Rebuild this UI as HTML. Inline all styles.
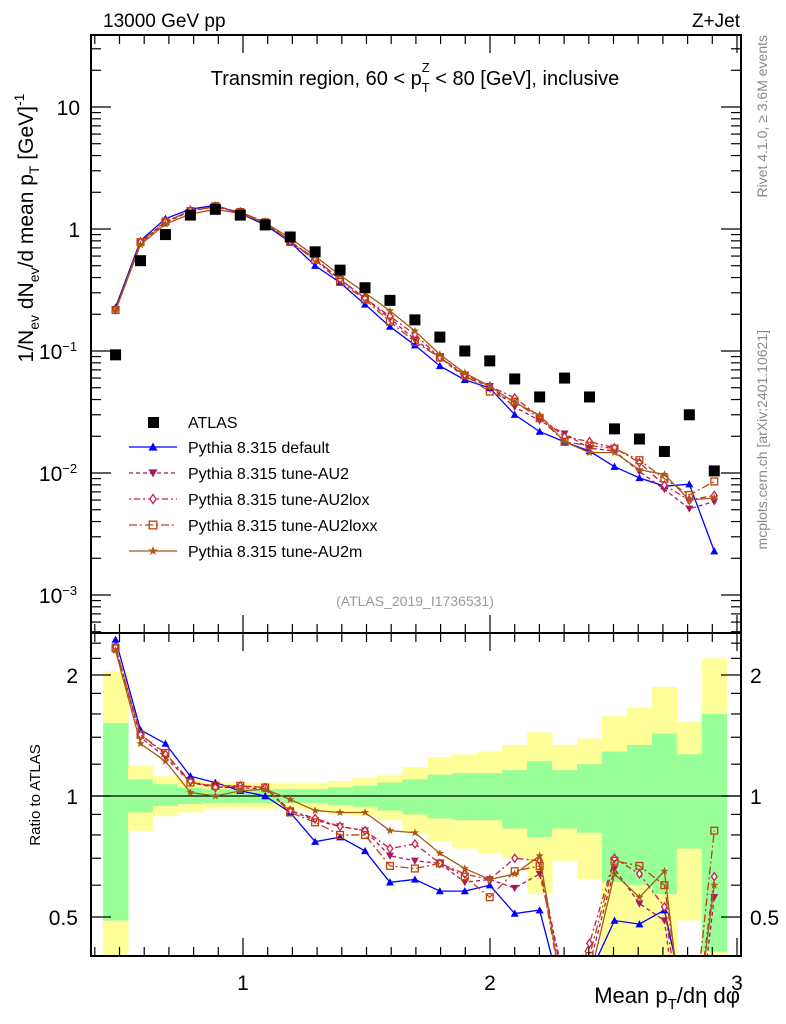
<!DOCTYPE html>
<html><head><meta charset="utf-8"><style>
body{margin:0;background:#fff;width:786px;height:1024px;overflow:hidden}
svg{font-family:"Liberation Sans",sans-serif;display:block}
</style></head><body>
<svg id="c" width="786" height="1024" viewBox="0 0 786 1024"></svg>
<script>
const xCenters=[0.484,0.585,0.686,0.787,0.888,0.989,1.09,1.191,1.292,1.393,1.494,1.595,1.696,1.797,1.898,1.999,2.1,2.201,2.302,2.403,2.504,2.605,2.706,2.807,2.908];
const atlas=[0.093,0.55,0.9,1.3,1.45,1.3,1.08,0.86,0.65,0.46,0.33,0.26,0.18,0.13,0.1,0.083,0.059,0.042,0.06,0.042,0.023,0.019,0.015,0.03,0.0104];
const rDefault=[2.45,1.46,1.35,1.12,1.08,1.03,1.0,0.91,0.77,0.79,0.73,0.61,0.62,0.58,0.58,0.6,0.51,0.52,0.3,0.36,0.49,0.48,0.52,0.27,0.22];
const rAU2=[2.35,1.4,1.25,1.08,1.05,1.05,1.04,0.92,0.87,0.84,0.82,0.71,0.69,0.68,0.61,0.62,0.59,0.64,0.35,0.38,0.66,0.54,0.49,0.17,0.56];
const rAU2lox=[2.35,1.42,1.27,1.09,1.05,1.06,1.05,0.92,0.88,0.84,0.82,0.74,0.76,0.68,0.64,0.62,0.7,0.69,0.33,0.43,0.7,0.64,0.53,0.2,0.63];
const rAU2loxx=[2.33,1.42,1.28,1.08,1.06,1.06,1.05,0.91,0.86,0.8,0.8,0.67,0.66,0.68,0.63,0.56,0.65,0.67,0.3,0.4,0.69,0.67,0.6,0.22,0.82];
const rAU2m=[2.3,1.35,1.22,1.02,1.0,1.03,1.04,0.98,0.92,0.91,0.91,0.82,0.81,0.72,0.66,0.62,0.64,0.71,0.3,0.35,0.64,0.56,0.65,0.2,0.6];
const greenUp=[1.52,1.1,1.07,1.05,1.04,1.04,1.04,1.04,1.04,1.05,1.06,1.08,1.1,1.13,1.14,1.14,1.16,1.22,1.16,1.2,1.29,1.34,1.43,1.27,1.6];
const greenDn=[0.49,0.91,0.945,0.955,0.96,0.96,0.96,0.96,0.96,0.95,0.94,0.92,0.9,0.88,0.87,0.87,0.83,0.79,0.83,0.81,0.61,0.6,0.57,0.74,0.41];
const yellowUp=[2.04,1.19,1.12,1.1,1.08,1.08,1.08,1.08,1.08,1.09,1.11,1.13,1.18,1.25,1.27,1.29,1.34,1.44,1.34,1.39,1.58,1.66,1.87,1.53,2.2];
const yellowDn=[0.3,0.82,0.89,0.91,0.93,0.93,0.93,0.93,0.92,0.9,0.89,0.87,0.81,0.77,0.74,0.72,0.7,0.57,0.69,0.62,0.3,0.3,0.3,0.49,0.3];
const series=[
 {name:'Pythia 8.315 default',r:rDefault,col:'#0000ff',dash:'',mk:'tri'},
 {name:'Pythia 8.315 tune-AU2',r:rAU2,col:'#a8185c',dash:'4,3',mk:'itri'},
 {name:'Pythia 8.315 tune-AU2lox',r:rAU2lox,col:'#c81e4a',dash:'2,3,6,3',mk:'dia'},
 {name:'Pythia 8.315 tune-AU2loxx',r:rAU2loxx,col:'#c0400c',dash:'8,3,2,3',mk:'sq'},
 {name:'Pythia 8.315 tune-AU2m',r:rAU2m,col:'#a85a14',dash:'',mk:'star'}];
const L=91,R=741,T=35,MB=633,RB=956;
const X=v=>243+(v-1)*247;
const Y=v=>229-Math.log10(v)*122;
const YR=v=>796-Math.log2(v)*121;
const svg=document.getElementById('c');const NS='http://www.w3.org/2000/svg';
function el(t,a,p){const e=document.createElementNS(NS,t);for(const k in a)e.setAttribute(k,a[k]);(p||svg).appendChild(e);return e;}
function txt(s,x,y,a,p){const e=el('text',Object.assign({x:x,y:y},a),p);e.innerHTML=s;return e;}
const clipM=el('clipPath',{id:'cm'});el('rect',{x:L,y:T,width:R-L,height:MB-T},clipM);
const clipR=el('clipPath',{id:'cr'});el('rect',{x:L,y:MB,width:R-L,height:RB-MB},clipR);
const gB=el('g',{'clip-path':'url(#cr)'});

const hw=0.0505;
xCenters.forEach((c,i)=>{
 const x0=X(c-hw),x1=X(c+hw);
 const y=el('rect',{x:x0,y:YR(yellowUp[i]),width:x1-x0+0.5,height:YR(yellowDn[i])-YR(yellowUp[i]),fill:'#ffff99'},gB);
 
 const g=el('rect',{x:x0,y:YR(greenUp[i]),width:x1-x0+0.5,height:YR(greenDn[i])-YR(greenUp[i]),fill:'#99ff99'},gB);
 
});
el('line',{x1:L,x2:R,y1:YR(1),y2:YR(1),stroke:'#000','stroke-width':1.2});
function marker(m,x,y,col,s,p){
 if(m==='tri')return el('path',{d:`M${x},${y-s}L${x+s},${y+s*0.8}L${x-s},${y+s*0.8}Z`,fill:col},p);
 if(m==='itri')return el('path',{d:`M${x},${y+s}L${x+s},${y-s*0.8}L${x-s},${y-s*0.8}Z`,fill:col},p);
 if(m==='dia')return el('path',{d:`M${x},${y-s}L${x+s*0.7},${y}L${x},${y+s}L${x-s*0.7},${y}Z`,fill:'#fff',stroke:col,'stroke-width':1.3},p);
 if(m==='sq')return el('rect',{x:x-s*0.85,y:y-s*0.85,width:s*1.7,height:s*1.7,fill:'none',stroke:col,'stroke-width':1.3},p);
 if(m==='star'){let d='';for(let k=0;k<10;k++){const rr=k%2?s*0.45:s*1.1,a=-Math.PI/2+k*Math.PI/5;d+=(k?'L':'M')+(x+rr*Math.cos(a))+','+(y+rr*Math.sin(a));}return el('path',{d:d+'Z',fill:col},p);}
 return el('rect',{x:x-s,y:y-s,width:2*s,height:2*s,fill:col},p);
}
const gM=el('g',{'clip-path':'url(#cm)'});
const gRt=el('g',{'clip-path':'url(#cr)'});
series.forEach((s,si)=>{
 const vals=s.r.map((r,i)=>r*atlas[i]);
 const g=el('g',{},gM);
 el('polyline',{points:xCenters.map((c,i)=>X(c)+','+Y(vals[i])).join(' '),fill:'none',stroke:s.col,'stroke-width':1.3,'stroke-dasharray':s.dash},g);
 xCenters.forEach((c,i)=>marker(s.mk,X(c),Y(vals[i]),s.col,4,g));
 const g2=el('g',{},gRt);
 el('polyline',{points:xCenters.map((c,i)=>X(c)+','+YR(vals[i]/atlas[i])).join(' '),fill:'none',stroke:s.col,'stroke-width':1.3,'stroke-dasharray':s.dash},g2);
 xCenters.forEach((c,i)=>marker(s.mk,X(c),YR(vals[i]/atlas[i]),s.col,4,g2));
});
const gA=el('g',{'clip-path':'url(#cm)'});
xCenters.forEach((c,i)=>el('rect',{x:X(c)-5.5,y:Y(atlas[i])-5.5,width:11,height:11,fill:'#000'},gA));
el('rect',{x:L,y:T,width:R-L,height:MB-T,fill:'none',stroke:'#000','stroke-width':2});
el('rect',{x:L,y:MB,width:R-L,height:RB-MB,fill:'none',stroke:'#000','stroke-width':2});
for(let v=0.4;v<=3.001;v+=0.1){const x=X(v);if(x<L)continue;const maj=Math.abs(v-Math.round(v))<0.01;const len=maj?18:9;
 [[T,1],[MB,-1],[MB,1],[RB,-1]].forEach(([y0,d])=>el('line',{x1:x,x2:x,y1:y0,y2:y0+d*len,stroke:'#000','stroke-width':1.2}));}
['1','2','3'].forEach(s=>{const t=txt(s,X(+s),990,{'font-size':21,'text-anchor':'middle'});});
for(let e=-4;e<=1;e++)for(let m=1;m<10;m++){const v=m*Math.pow(10,e);const y=Y(v);if(y<T||y>MB)continue;const len=m===1?20:10;
 el('line',{x1:L,x2:L+len,y1:y,y2:y,stroke:'#000','stroke-width':1.2});el('line',{x1:R,x2:R-len,y1:y,y2:y,stroke:'#000','stroke-width':1.2});}
const yl=[['10',10],['1',1],['10<tspan dy="-8" font-size="13">−1</tspan>',0.1],['10<tspan dy="-8" font-size="13">−2</tspan>',0.01],['10<tspan dy="-8" font-size="13">−3</tspan>',0.001]];
yl.forEach(([s,v])=>{const t=txt(s,s.length>3?58:80,Y(v)+8,{'font-size':21,'text-anchor':s.length>3?'middle':'end'});});
[0.4,0.5,0.6,0.7,0.8,0.9,1,1.2,1.4,1.6,1.8,2,2.2,2.4].forEach(v=>{const y=YR(v);if(y<MB||y>RB)return;const maj=(v===0.5||v===1||v===2);const len=maj?20:10;
 el('line',{x1:L,x2:L+len,y1:y,y2:y,stroke:'#000','stroke-width':1.2});el('line',{x1:R,x2:R-len,y1:y,y2:y,stroke:'#000','stroke-width':1.2});});
[['2',2],['1',1],['0.5',0.5]].forEach(([s,v])=>{txt(s,78,YR(v)+8,{'font-size':21,'text-anchor':'end'});txt(s,750,YR(v)+8,{'font-size':21});});
txt('13000 GeV pp',103,27,{'font-size':19});
txt('Z+Jet',740,27,{'font-size':19,'text-anchor':'end'});
txt('Transmin region, 60 &lt; p<tspan dy="7" font-size="13">T</tspan><tspan dy="-20" dx="-8" font-size="13">Z</tspan><tspan dy="13"> &lt; 80 [GeV], inclusive</tspan>',415,85,{'font-size':20,'text-anchor':'middle'});
txt('(ATLAS_2019_I1736531)',415,606,{'font-size':14,fill:'#999','text-anchor':'middle'});
txt('1/N<tspan dy="6" font-size="14">ev</tspan><tspan dy="-6"> dN</tspan><tspan dy="6" font-size="14">ev</tspan><tspan dy="-6">/d mean p</tspan><tspan dy="6" font-size="14">T</tspan><tspan dy="-6"> [GeV]</tspan><tspan dy="-9" font-size="14">-1</tspan>',0,0,{'font-size':21,'text-anchor':'middle',transform:'translate(33,228) rotate(-90)'});
txt('Ratio to ATLAS',0,0,{'font-size':15,'text-anchor':'middle',transform:'translate(40,795) rotate(-90)'});
txt('Mean p<tspan dy="6" font-size="15">T</tspan><tspan dy="-6">/dη dφ</tspan>',740,1003,{'font-size':22,'text-anchor':'end'});
txt('Rivet 4.1.0, ≥ 3.6M events',0,0,{'font-size':14,fill:'#888','text-anchor':'end',transform:'translate(767,35) rotate(-90)'});
txt('mcplots.cern.ch [arXiv:2401.10621]',0,0,{'font-size':14,fill:'#888','text-anchor':'end',transform:'translate(767,330) rotate(-90)'});
const lg=el('g',{});
el('rect',{x:148,y:417,width:11,height:11,fill:'#000'},lg);txt('ATLAS',188,428,{'font-size':16},lg);
series.forEach((s,i)=>{const y=447+i*26;
 el('line',{x1:129,x2:177,y1:y,y2:y,stroke:s.col,'stroke-width':1.3,'stroke-dasharray':s.dash},lg);
 marker(s.mk,153,y,s.col,4.5,lg);txt(s.name,188,y+6,{'font-size':16},lg);});
</script>
</body></html>
